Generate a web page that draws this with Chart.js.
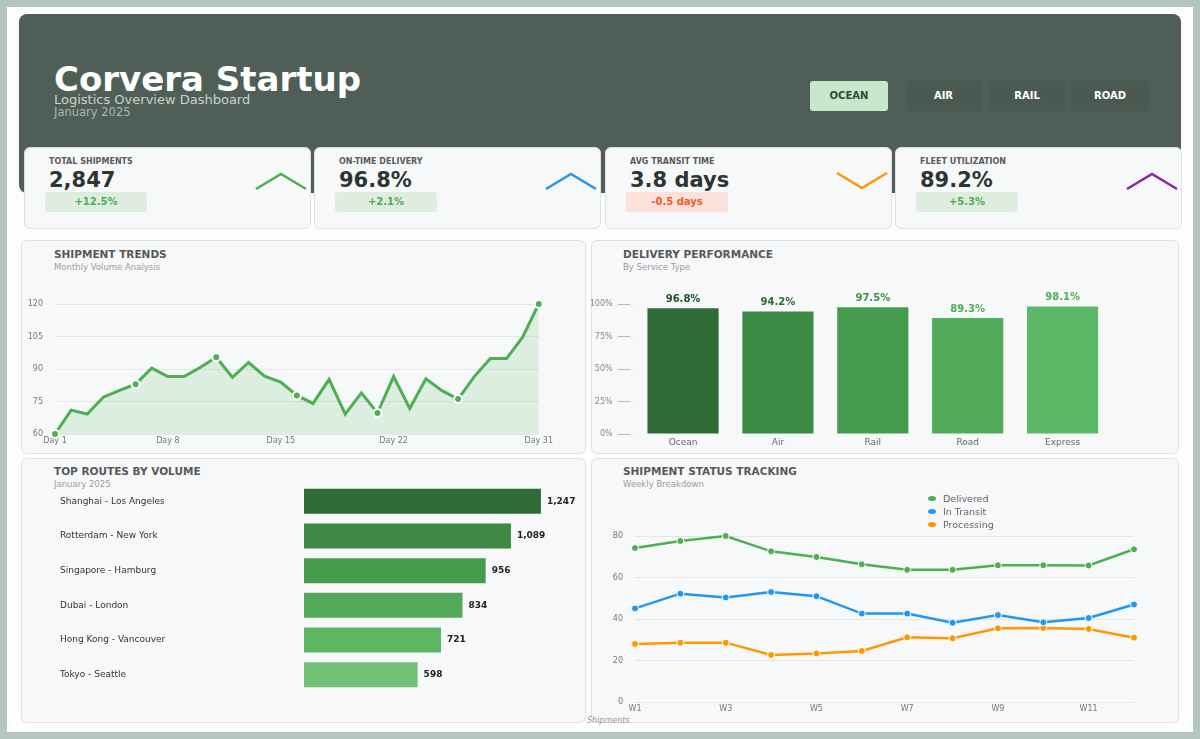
<!DOCTYPE html>
<html>
<head>
<meta charset="utf-8">
<script src="https://cdn.jsdelivr.net/npm/chart.js@4.4.1/dist/chart.umd.min.js"></script>
<style>
  body { margin: 0; width: 1200px; height: 739px; background: #b6c5c1; font-family: "DejaVu Sans", sans-serif; position: relative; overflow: hidden; }
  .abs { position: absolute; }
  #page { left: 7px; top: 7px; width: 1186px; height: 725px; background: #fcfdfd; }
  #header { left: 19px; top: 14px; width: 1162px; height: 179px; background: #4f5f57; border-radius: 8px; }
  .title { left: 54px; top: 62px; font-size: 34px; line-height: 34px; font-weight: bold; color: #fff; }
  .sub1 { left: 54px; top: 93px; font-size: 13px; line-height: 13px; color: #c9d2cd; }
  .sub2 { left: 54px; top: 107px; font-size: 11.5px; line-height: 11.5px; color: #a9b5af; }
  .btn { top: 81px; height: 30px; line-height: 30px; text-align: center; font-size: 10px; font-weight: bold; color: #fff; background: #4a5a52; border-radius: 3px; }
  .btn.on { background: #c8e6c9; color: #2f4a36; }
  .kpi { top: 147px; width: 285px; height: 80px; background: #f7f8fa; border: 1px solid #dde1e3; border-radius: 6px; }
  .kpi .lbl { position: absolute; left: 24px; top: 9px; font-size: 8px; font-weight: bold; color: #5a5a5a; }
  .kpi .val { position: absolute; left: 24px; top: 20px; font-size: 21px; font-weight: bold; color: #2c3531; }
  .kpi .badge { position: absolute; left: 20px; top: 44px; width: 102px; height: 20px; line-height: 20px; text-align: center; font-size: 10px; font-weight: bold; border-radius: 3px; }
  .badge.up { background: #dfede0; color: #4caf50; }
  .badge.down { background: #fce0da; color: #f05a2a; }
  .kpi svg { position: absolute; left: 228px; top: 22px; }
  .card { background: #f7f8fa; border: 1px solid #dde1e3; border-radius: 6px; }
  .ct { font-size: 10.5px; font-weight: bold; color: #585858; }
  .cs { font-size: 8.5px; color: #9c9c9c; }
  .cv { position: absolute; }
  .leg { left: 928px; font-size: 9.5px; color: #666; line-height: 12px; }
  .leg i { display: inline-block; width: 8px; height: 5px; border-radius: 50%; margin-right: 7px; vertical-align: middle; position: relative; top: -1px; }
</style>
</head>
<body>
<div id="page" class="abs"></div>
<div id="header" class="abs"></div>
<div class="abs title">Corvera Startup</div>
<div class="abs sub1">Logistics Overview Dashboard</div>
<div class="abs sub2">January 2025</div>

<div class="abs btn on" style="left:810px;width:78px">OCEAN</div>
<div class="abs btn" style="left:905px;width:77px">AIR</div>
<div class="abs btn" style="left:989px;width:76px">RAIL</div>
<div class="abs btn" style="left:1071px;width:78px">ROAD</div>

<div id="kpis"></div>

<div class="abs card" style="left:21px;top:240px;width:563px;height:212px"></div>
<div class="abs card" style="left:591px;top:240px;width:586px;height:212px"></div>
<div class="abs card" style="left:21px;top:458px;width:563px;height:263px"></div>
<div class="abs card" style="left:591px;top:458px;width:586px;height:263px"></div>

<div class="abs ct" style="left:54px;top:248px">SHIPMENT TRENDS</div>
<div class="abs cs" style="left:54px;top:262px">Monthly Volume Analysis</div>
<div class="abs ct" style="left:623px;top:248px">DELIVERY PERFORMANCE</div>
<div class="abs cs" style="left:623px;top:262px">By Service Type</div>
<div class="abs ct" style="left:54px;top:465px">TOP ROUTES BY VOLUME</div>
<div class="abs cs" style="left:54px;top:479px">January 2025</div>
<div class="abs ct" style="left:623px;top:465px">SHIPMENT STATUS TRACKING</div>
<div class="abs cs" style="left:623px;top:479px">Weekly Breakdown</div>

<div class="cv" style="left:21px;top:296px;width:534px;height:152px"><canvas id="trendChart"></canvas></div>
<div class="cv" style="left:591px;top:285px;width:534px;height:165px"><canvas id="perfChart"></canvas></div>
<div class="cv" style="left:21px;top:476px;width:564px;height:224px"><canvas id="routeChart"></canvas></div>
<div class="cv" style="left:591px;top:528px;width:558px;height:188px"><canvas id="statusChart"></canvas></div>
<div id="legend"></div>
<div class="abs" style="left:587px;top:716px;font-size:8px;font-style:italic;color:#999">Shipments</div>

<script>
// KPI cards
const kpiLabels = ["TOTAL SHIPMENTS", "ON-TIME DELIVERY", "AVG TRANSIT TIME", "FLEET UTILIZATION"];
const kpiValues = ["2,847", "96.8%", "3.8 days", "89.2%"];
const kpiChanges = ["+12.5%", "+2.1%", "-0.5 days", "+5.3%"];
const kpiTrendUp = [true, true, false, true];

// Shipment trends (daily volume)
const days = ["Day 1","Day 2","Day 3","Day 4","Day 5","Day 6","Day 7","Day 8","Day 9","Day 10",
  "Day 11","Day 12","Day 13","Day 14","Day 15","Day 16","Day 17","Day 18","Day 19","Day 20",
  "Day 21","Day 22","Day 23","Day 24","Day 25","Day 26","Day 27","Day 28","Day 29","Day 30","Day 31"];
const volume = [60, 71, 69.2, 77, 80.1, 83, 90.4, 86.5, 86.5, 90.7,
  95.4, 86.2, 93, 86.7, 84, 77.8, 74.1, 85.2, 69.2, 79,
  69.7, 86.5, 71.8, 85.5, 80, 76.1, 86.5, 94.8, 94.8, 104.7, 120];
const trendTicks = [60, 75, 90, 105, 120];

// Delivery performance
const services = ["Ocean", "Air", "Rail", "Road", "Express"];
const onTime = [96.8, 94.2, 97.5, 89.3, 98.1];

// Top routes
const routes = ["Shanghai - Los Angeles", "Rotterdam - New York", "Singapore - Hamburg", "Dubai - London", "Hong Kong - Vancouver", "Tokyo - Seattle"];
const routeVolume = [1247, 1089, 956, 834, 721, 598];

// Shipment status
const weeks = ["W1","W2","W3","W4","W5","W6","W7","W8","W9","W10","W11","W12"];
const delivered = [74.2, 77.6, 80, 72.6, 69.9, 66.4, 63.7, 63.7, 65.9, 65.9, 65.8, 73.6];
const inTransit = [45.1, 52.2, 50.4, 53, 51, 42.6, 42.6, 38.2, 41.9, 38.4, 40.5, 47];
const processing = [28, 28.6, 28.6, 22.7, 23.4, 24.6, 31.2, 30.7, 35.5, 35.7, 35.2, 31];

const kpiColors = ["#4caf50", "#2196f3", "#ff9800", "#8e24aa"];
const kpiLeft = [24, 314, 605, 895];
let html = "";
kpiLabels.forEach((l, i) => {
  const pts = kpiTrendUp[i] ? "3,19 28,4 53,19" : "3,3 28,18 53,3";
  html += `<div class="abs kpi" style="left:${kpiLeft[i]}px">
    <div class="lbl">${l}</div><div class="val">${kpiValues[i]}</div>
    <div class="badge ${kpiTrendUp[i] ? 'up' : 'down'}">${kpiChanges[i]}</div>
    <svg width="56" height="22"><polyline points="${pts}" fill="none" stroke="${kpiColors[i]}" stroke-width="2.5"/></svg>
  </div>`;
});
document.getElementById("kpis").innerHTML = html;

Chart.defaults.font.family = "'DejaVu Sans', sans-serif";
Chart.defaults.font.size = 8;
Chart.defaults.color = "#777";
Chart.defaults.animation = false;
Chart.defaults.plugins.legend.display = false;
Chart.defaults.plugins.tooltip.enabled = false;
Chart.defaults.maintainAspectRatio = false;

const gridColor = "#e3e6e8";
// y axes: gap between label and plot comes from an invisible tick mark, so the
// axis doesn't add tick padding above/below the plot area
const yGrid = { color: gridColor, drawTicks: true, tickLength: 12, tickColor: 'rgba(0,0,0,0)' };

// SHIPMENT TRENDS
const trendShow = [0, 7, 14, 21, 30];
new Chart(document.getElementById("trendChart"), {
  type: 'line',
  data: {
    labels: days,
    datasets: [{
      data: volume,
      borderColor: "#4caf50",
      backgroundColor: "rgba(76,175,80,0.15)",
      borderWidth: 3,
      fill: 'start',
      tension: 0,
      clip: false,
      pointRadius: (c) => c.dataIndex % 5 === 0 ? 4 : 0,
      pointBackgroundColor: "#4caf50",
      pointBorderColor: "#fff",
      pointBorderWidth: 2
    }]
  },
  options: {
    layout: { padding: { top: 8, right: 15 } },
    scales: {
      x: {
        grid: { display: false, drawTicks: false },
        border: { display: false },
        ticks: { autoSkip: false, maxRotation: 0, padding: 2, color: "#777",
          callback: (v, i) => trendShow.includes(i) ? days[i] : '' },
        afterFit: (s) => { s.height = 14; }
      },
      y: {
        min: 60, max: 120,
        afterBuildTicks: (s) => { s.ticks = trendTicks.map(v => ({ value: v })); },
        grid: yGrid,
        border: { display: false },
        ticks: { padding: 0 },
        afterFit: (s) => { s.width = 34; }
      }
    }
  }
});

// DELIVERY PERFORMANCE
const perfColors = ["#2e6b36", "#3d8a45", "#469a4d", "#53aa5a", "#5cb866"];
const perfLabelColors = ["#1f4f25", "#2e6b36", "#3f9146", "#4caf50", "#4fae56"];
new Chart(document.getElementById("perfChart"), {
  type: 'bar',
  data: {
    labels: services,
    datasets: [{ data: onTime, backgroundColor: perfColors, barPercentage: 0.75, categoryPercentage: 1 }]
  },
  options: {
    layout: { padding: { top: 19, right: 15 } },
    scales: {
      x: {
        grid: { display: false, drawTicks: false },
        border: { display: false },
        ticks: { padding: 3, font: { size: 9 }, color: "#666" },
        afterFit: (s) => { s.height = 16; }
      },
      y: {
        min: 0, max: 100,
        ticks: { stepSize: 25, padding: 5, color: "#888", callback: (v) => v + "%" },
        grid: { drawOnChartArea: false, drawTicks: true, tickLength: 18, tickBorderDash: [13, 5], tickColor: "#bbb" },
        border: { display: false },
        afterFit: (s) => { s.width = 44.6; }
      }
    }
  },
  plugins: [{
    id: 'perfLabels',
    afterDatasetsDraw(chart) {
      const ctx = chart.ctx;
      ctx.save();
      ctx.font = "bold 10px 'DejaVu Sans'";
      ctx.textAlign = "center";
      ctx.textBaseline = "middle";
      chart.getDatasetMeta(0).data.forEach((bar, i) => {
        ctx.fillStyle = perfLabelColors[i];
        ctx.fillText(onTime[i].toFixed(1) + "%", bar.x, bar.y - 9);
      });
      ctx.restore();
    }
  }]
});

// TOP ROUTES
const routeColors = ["#2e6b36", "#3d8843", "#469a4c", "#52a958", "#5cb663", "#72c176"];
new Chart(document.getElementById("routeChart"), {
  type: 'bar',
  data: {
    labels: routes,
    datasets: [{ data: routeVolume, backgroundColor: routeColors, barPercentage: 0.72, categoryPercentage: 1 }]
  },
  options: {
    indexAxis: 'y',
    layout: { padding: { left: 39, top: 8, right: 15, bottom: 8 } },
    scales: {
      x: { display: false, min: 0, max: 1400 },
      y: {
        grid: { display: false, drawTicks: false },
        border: { display: false },
        ticks: { crossAlign: 'far', padding: 0, font: { size: 9 }, color: "#333" },
        afterFit: (s) => { s.width = 244; }
      }
    }
  },
  plugins: [{
    id: 'routeLabels',
    afterDatasetsDraw(chart) {
      const ctx = chart.ctx;
      ctx.save();
      ctx.font = "bold 9px 'DejaVu Sans'";
      ctx.fillStyle = "#222";
      ctx.textAlign = "left";
      ctx.textBaseline = "middle";
      chart.getDatasetMeta(0).data.forEach((bar, i) => {
        ctx.fillText(routeVolume[i].toLocaleString("en-US"), bar.x + 6, bar.y);
      });
      ctx.restore();
    }
  }]
});

// SHIPMENT STATUS
const statusNames = ["Delivered", "In Transit", "Processing"];
const statusColors = ["#4caf50", "#2196f3", "#ff9800"];
const statusSeries = [delivered, inTransit, processing];
new Chart(document.getElementById("statusChart"), {
  type: 'line',
  data: {
    labels: weeks,
    datasets: statusSeries.map((d, i) => ({
      label: statusNames[i],
      data: d,
      borderColor: statusColors[i],
      backgroundColor: statusColors[i],
      borderWidth: 2.5,
      tension: 0,
      clip: false,
      pointRadius: 3.5,
      pointBorderColor: "#fff",
      pointBorderWidth: 1
    }))
  },
  options: {
    layout: { padding: { top: 8, right: 15 } },
    scales: {
      x: {
        grid: { display: false, drawTicks: false },
        border: { display: false },
        ticks: { autoSkip: false, maxRotation: 0, padding: 2, callback: (v, i) => i % 2 === 0 ? weeks[i] : '' },
        afterFit: (s) => { s.height = 14; }
      },
      y: {
        min: 0, max: 80,
        ticks: { stepSize: 20, padding: 0 },
        grid: yGrid,
        border: { display: false },
        afterFit: (s) => { s.width = 44; }
      }
    }
  }
});

document.getElementById("legend").innerHTML = statusNames.map((n, i) =>
  `<div class="abs leg" style="top:${493 + i * 13}px"><i style="background:${statusColors[i]}"></i>${n}</div>`).join("");
</script>
</body>
</html>
